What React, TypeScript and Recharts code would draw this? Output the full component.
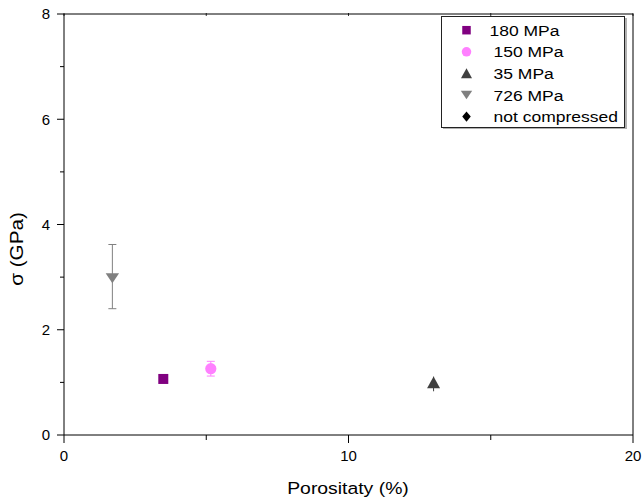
import React from 'react';
import { ScatterChart, Scatter, XAxis, YAxis, ErrorBar, Legend } from 'recharts';

// series
const seriesNames = ['180 MPa', '150 MPa', '35 MPa', '726 MPa', 'not compressed'];
const porosity = [3.49, 5.16, 12.99, 1.7];
const sigma = [1.065, 1.26, 1.0, 2.98];
const errMinus = [0, 0.14, 0.16, 0.58];
const errPlus = [0, 0.14, 0.1, 0.64];
const capWidth = [0, 4, 0.5, 4];
const colors = ['#800080', '#ff80ff', '#404040', '#808080', '#000000'];
const shapes = ['square', 'circle', 'up', 'down', 'diamond'];

const xTicks = [0, 5, 10, 15, 20];
const yTicks = [0, 1, 2, 3, 4, 5, 6, 7, 8];

const FONT = 'Liberation Sans, Arial, sans-serif';

const seriesData = seriesNames.map((name, i) =>
  i < porosity.length
    ? [{ x: porosity[i], y: sigma[i], err: [errMinus[i], errPlus[i]] }]
    : []
);
// used only to hook up the mirrored top / right axes
const frameData = porosity.map((x, i) => ({ x, y: sigma[i] }));

const Marker = ({ kind, cx, cy, fill, k = 1 }: any) => {
  if (cx == null || cy == null) return null;
  switch (kind) {
    case 'square':
      return <rect x={cx - 5 * k} y={cy - 5 * k} width={10 * k} height={10 * k} fill={fill} />;
    case 'circle':
      return <circle cx={cx} cy={cy} r={5.6 * k} fill={fill} />;
    case 'up':
      return (
        <polygon
          points={`${cx},${cy - 6 * k} ${cx + 6.5 * k},${cy + 5.8 * k} ${cx - 6.5 * k},${cy + 5.8 * k}`}
          fill={fill}
        />
      );
    case 'down':
      return (
        <polygon
          points={`${cx - 6.7 * k},${cy - 5 * k} ${cx + 6.7 * k},${cy - 5 * k} ${cx},${cy + 5 * k}`}
          fill={fill}
        />
      );
    default:
      return (
        <polygon
          points={`${cx},${cy - 6 * k} ${cx + 5 * k},${cy} ${cx},${cy + 6 * k} ${cx - 5 * k},${cy}`}
          fill={fill}
        />
      );
  }
};

const BottomTick = ({ x, y, payload }: any) => {
  const major = payload.value % 10 === 0;
  return (
    <g>
      <line x1={x} x2={x} y1={y} y2={y + (major ? 8 : 5)} stroke="#000" />
      {major && (
        <text x={x} y={y + 26} textAnchor="middle" fontSize={15} fontFamily={FONT} fill="#000">
          {payload.value}
        </text>
      )}
    </g>
  );
};

const LeftTick = ({ x, y, payload }: any) => {
  const major = payload.value % 2 === 0;
  return (
    <g>
      <line x1={x} x2={x - (major ? 7 : 4)} y1={y} y2={y} stroke="#000" />
      {major && (
        <text x={x - 14} y={y + 5.4} textAnchor="end" fontSize={15} fontFamily={FONT} fill="#000">
          {payload.value}
        </text>
      )}
    </g>
  );
};

// the mirrored top axis only carries tiny notches, the right one none
const TopTick = ({ x, y }: any) => (
  <line x1={x} x2={x} y1={y - 1} y2={y + 2} stroke="#000" strokeWidth={0.8} />
);

const LegendBox = () => (
  <svg width={188} height={116} style={{ display: 'block' }}>
    <rect x={2} y={2} width={184} height={111} fill="#b0b0b0" />
    <rect x={0.5} y={0.5} width={183} height={111} fill="#fff" stroke="#222" />
    {seriesNames.map((name, i) => {
      const cy = 14.2 + i * 21.6;
      const tx = i === 0 ? 48.5 : 52.5;
      return (
        <g key={name}>
          <Marker kind={shapes[i]} cx={25.5} cy={cy} fill={colors[i]} k={0.85} />
          <text
            transform={`translate(${tx},${cy + 5.5}) scale(1.13,1)`}
            fontSize={15.5}
            fontFamily={FONT}
            fill="#000"
          >
            {name}
          </text>
        </g>
      );
    })}
  </svg>
);

export default function App() {
  return (
    <div style={{ position: 'absolute', left: 0, top: 0, width: 642, height: 500, background: '#fff' }}>
      <ScatterChart width={642} height={500} margin={{ top: 13, right: 8, bottom: 0, left: 0 }}>
        <XAxis
          dataKey="x"
          type="number"
          domain={[0, 20]}
          ticks={xTicks}
          height={65}
          stroke="#000"
          tickSize={0}
          tickMargin={0}
          tick={<BottomTick />}
          interval={0}
        />
        <XAxis
          xAxisId="top"
          dataKey="x"
          orientation="top"
          type="number"
          domain={[0, 20]}
          ticks={xTicks}
          height={1}
          stroke="#000"
          tickSize={0}
          tickMargin={0}
          tick={<TopTick />}
          interval={0}
        />
        <YAxis
          dataKey="y"
          type="number"
          domain={[0, 8]}
          ticks={yTicks}
          width={64}
          stroke="#000"
          tickSize={0}
          tickMargin={0}
          tick={<LeftTick />}
          interval={0}
        />
        <YAxis
          yAxisId="right"
          dataKey="y"
          orientation="right"
          type="number"
          domain={[0, 8]}
          ticks={yTicks}
          width={1}
          stroke="#000"
          tickLine={false}
          tick={false}
        />
        <Scatter
          xAxisId="top"
          yAxisId="right"
          data={frameData}
          legendType="none"
          isAnimationActive={false}
          shape={() => <g />}
        />
        {seriesNames.map((name, i) => (
          <Scatter
            key={name}
            name={name}
            data={seriesData[i]}
            fill={colors[i]}
            isAnimationActive={false}
            shape={(p: any) => <Marker kind={shapes[i]} cx={p.cx} cy={p.cy} fill={colors[i]} />}
          >
            {i < porosity.length && errPlus[i] > 0 && (
              <ErrorBar dataKey="err" direction="y" width={capWidth[i]} stroke={colors[i]} strokeWidth={1} />
            )}
          </Scatter>
        ))}
        <Legend
          layout="vertical"
          align="center"
          verticalAlign="middle"
          wrapperStyle={{ left: 441, top: 16, width: 188, height: 116 }}
          content={() => <LegendBox />}
        />
        <text
          transform="translate(348,494) scale(1.14,1)"
          textAnchor="middle"
          fontSize={17}
          fontFamily={FONT}
          fill="#000"
        >
          Porositaty (%)
        </text>
        <text
          transform="translate(23,249) rotate(-90) scale(1.15,1)"
          textAnchor="middle"
          fontSize={18}
          fontFamily={FONT}
          fill="#000"
        >
          σ (GPa)
        </text>
      </ScatterChart>
    </div>
  );
}
